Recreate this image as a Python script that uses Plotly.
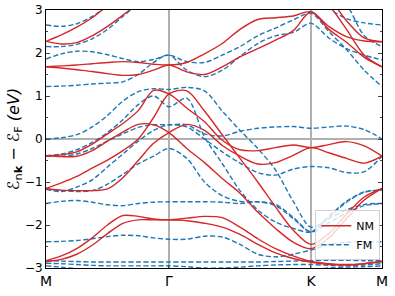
import plotly.graph_objects as go

# k-path: M -> Gamma -> K -> M (hexagonal), segment lengths
SEG_LEN = [0.866, 1.0, 0.5]
SEG_STEPS = [8, 8, 4]
TICK_LABELS = ["M", "Γ", "K", "M"]

# energies (eV) of NM bands at the 21 k-grid points
NM_1 = [2.27, 2.42, 2.6, 2.82, 3.1, 3.4, 3.6, 3.7, 3.75, 3.8, 3.8, 3.8, 3.7, 3.6, 3.5, 3.4, 3.3, 3.25, 2.75, 2.35, 2.26]
NM_2 = [2.27, 2.21, 2.24, 2.4, 2.62, 2.88, 3.15, 3.4, 3.5, 3.6, 3.7, 3.7, 3.6, 3.5, 3.45, 3.4, 3.35, 3.1, 2.55, 1.95, 1.68]
NM_3 = [1.68, 1.7, 1.72, 1.75, 1.78, 1.8, 1.78, 1.74, 1.72, 1.78, 1.98, 2.22, 2.55, 2.78, 2.82, 2.86, 2.96, 2.62, 2.38, 2.28, 2.26]
NM_4 = [1.68, 1.65, 1.61, 1.57, 1.52, 1.48, 1.5, 1.6, 1.72, 1.56, 1.5, 1.68, 1.91, 2.1, 2.3, 2.52, 2.96, 2.55, 2.25, 1.9, 1.68]
NM_5 = [-0.39, -0.37, -0.3, -0.12, 0.12, 0.36, 0.66, 1.13, 1.05, 0.72, 0.4, -0.03, -0.25, -0.27, -0.2, -0.14, -0.2, -0.13, -0.06, -0.16, -0.4]
NM_6 = [-0.39, -0.41, -0.4, -0.27, -0.05, 0.16, 0.34, 0.33, 0.15, -0.22, -0.55, -0.92, -1.26, -1.7, -2.08, -2.4, -2.55, -2.3, -1.85, -1.42, -1.15]
NM_7 = [-1.15, -1.02, -0.87, -0.68, -0.49, -0.27, 0.0, 0.5, 1.05, 1.12, 0.65, 0.1, -0.45, -1.0, -1.58, -2.12, -2.45, -2.2, -1.75, -1.35, -1.15]
NM_8 = [-1.15, -1.19, -1.2, -1.2, -1.16, -0.9, -0.5, -0.1, 0.15, 0.34, 0.2, -0.15, -0.4, -0.58, -0.55, -0.38, -0.2, -0.32, -0.45, -0.56, -0.4]
NM_9 = [-2.83, -2.72, -2.55, -2.3, -2.0, -1.78, -1.8, -1.86, -1.88, -1.84, -1.8, -1.83, -2.05, -2.32, -2.55, -2.72, -2.85, -2.9, -2.92, -2.9, -2.85]
NM_10 = [-2.85, -2.8, -2.68, -2.47, -2.2, -1.96, -1.88, -1.88, -1.88, -1.9, -1.96, -2.05, -2.22, -2.45, -2.65, -2.78, -2.87, -2.92, -2.93, -2.9, -2.85]

# energies (eV) of FM bands
FM_1 = [2.65, 2.62, 2.68, 2.85, 3.1, 3.4, 3.6, 3.8, 3.9, 3.9, 3.6, 3.2, 3.02, 3.2, 3.4, 3.5, 3.5, 3.05, 2.8, 2.7, 2.65]
FM_2 = [2.15, 2.15, 2.2, 2.33, 2.55, 2.85, 3.15, 3.4, 3.6, 3.7, 3.8, 3.8, 3.8, 3.75, 3.7, 3.6, 3.5, 3.3, 3.1, 2.4, 2.15]
FM_3 = [1.86, 1.98, 2.04, 2.03, 1.96, 1.87, 1.8, 1.85, 1.95, 1.8, 1.78, 1.95, 2.15, 2.4, 2.58, 2.77, 2.92, 2.5, 2.08, 1.6, 1.22]
FM_4 = [1.22, 1.23, 1.25, 1.28, 1.3, 1.33, 1.5, 1.78, 1.95, 1.6, 1.45, 1.6, 1.92, 2.22, 2.4, 2.48, 2.69, 2.35, 2.1, 1.95, 1.84]
FM_5 = [0.0, 0.03, 0.1, 0.28, 0.55, 0.88, 1.1, 1.17, 1.15, 1.2, 1.12, 0.65, 0.2, -0.22, -0.72, -1.45, -2.05, -1.85, -1.65, -1.52, -1.5]
FM_6 = [-0.39, -0.35, -0.25, -0.08, 0.15, 0.45, 0.8, 1.0, 0.75, 0.95, 0.05, -0.57, -1.2, -1.65, -1.93, -2.08, -2.16, -1.8, -1.45, -1.23, -1.19]
FM_7 = [-0.39, -0.4, -0.35, -0.22, -0.05, 0.12, 0.27, 0.33, 0.33, 0.33, 0.12, 0.07, 0.18, 0.25, 0.28, 0.29, 0.25, 0.28, 0.3, 0.22, 0.0]
FM_8 = [-1.17, -1.22, -1.12, -0.95, -0.65, -0.35, -0.05, 0.2, 0.33, 0.28, 0.0, -0.3, -0.56, -0.78, -0.84, -0.7, -0.64, -0.67, -0.78, -0.76, -0.4]
FM_9 = [-1.17, -1.2, -1.22, -1.2, -1.05, -0.82, -0.58, -0.4, -0.22, -0.45, -1.0, -1.32, -1.45, -1.46, -1.52, -1.82, -2.16, -1.82, -1.47, -1.24, -1.19]
FM_10 = [-1.5, -1.45, -1.43, -1.47, -1.53, -1.55, -1.5, -1.47, -1.46, -1.46, -1.46, -1.47, -1.5, -1.46, -1.55, -1.85, -2.16, -1.95, -1.72, -1.55, -1.5]
FM_11 = [-2.39, -2.38, -2.36, -2.32, -2.27, -2.24, -2.25, -2.3, -2.33, -2.33, -2.26, -2.28, -2.45, -2.68, -2.74, -2.68, -2.58, -2.45, -2.4, -2.39, -2.39]
FM_12 = [-2.83, -2.84, -2.85, -2.86, -2.86, -2.86, -2.86, -2.86, -2.86, -2.86, -2.86, -2.86, -2.86, -2.86, -2.85, -2.84, -2.83, -2.82, -2.82, -2.83, -2.83]
FM_13 = [-2.89, -2.9, -2.92, -2.94, -2.95, -2.95, -2.95, -2.95, -2.95, -2.97, -3.0, -3.0, -2.98, -2.95, -2.93, -2.92, -2.92, -2.94, -2.95, -2.93, -2.9]
FM_14 = [-2.95, -2.98, -3.02, -3.05, -3.05, -3.05, -3.05, -3.05, -3.05, -3.05, -3.05, -3.05, -3.05, -3.05, -3.05, -3.05, -3.05, -3.0, -2.98, -2.97, -2.95]

NM_BANDS = [NM_1, NM_2, NM_3, NM_4, NM_5, NM_6, NM_7, NM_8, NM_9, NM_10]
FM_BANDS = [FM_1, FM_2, FM_3, FM_4, FM_5, FM_6, FM_7, FM_8, FM_9, FM_10, FM_11, FM_12, FM_13, FM_14]

# build k-grid from path segments
KGRID = [0.0]
TICKS = [0.0]
for L, n in zip(SEG_LEN, SEG_STEPS):
    start = TICKS[-1]
    for i in range(1, n + 1):
        KGRID.append(start + L * i / n)
    TICKS.append(start + L)

RED = "#d62728"
BLUE = "#1f77b4"

fig = go.Figure()


def add_bands(bands, name, color, dash):
    xs, ys = [], []
    for b in bands:
        xs += KGRID + [None]
        ys += b + [None]
    fig.add_trace(go.Scatter(
        x=xs, y=ys, mode="lines", name=name,
        line=dict(color=color, width=1.4, dash=dash, shape="spline", smoothing=0.9),
        connectgaps=False, hoverinfo="skip",
    ))


add_bands(FM_BANDS, "FM", BLUE, "5px,2.5px")
add_bands(NM_BANDS, "NM", RED, "solid")

fig.update_layout(
    width=395, height=296,
    margin=dict(l=46, r=13, t=10, b=28, autoexpand=False),
    paper_bgcolor="white", plot_bgcolor="white",
    font=dict(family="DejaVu Sans", color="black", size=12),
    showlegend=True,
    legend=dict(
        x=0.995, y=0.03, xanchor="right", yanchor="bottom",
        bgcolor="rgba(255,255,255,0.8)", bordercolor="#d0d0d0", borderwidth=1,
        font=dict(size=11), traceorder="reversed",
        tracegroupgap=0, itemwidth=30,
    ),
)
fig.update_xaxes(
    range=[TICKS[0], TICKS[-1]], automargin=False,
    tickvals=TICKS, ticktext=TICK_LABELS,
    tickfont=dict(size=14),
    showgrid=True, gridcolor="#b0b0b0", gridwidth=1.2,
    zeroline=False,
    showline=True, linecolor="black", linewidth=1, mirror=True,
    ticks="inside", ticklen=3,
)
fig.update_yaxes(
    range=[-3, 3], dtick=1, automargin=False,
    tickfont=dict(size=12),
    showgrid=False,
    zeroline=True, zerolinecolor="#b0b0b0", zerolinewidth=1.2,
    showline=True, linecolor="black", linewidth=1, mirror="allticks",
    ticks="inside", ticklen=4,
    minor=dict(ticks="inside", ticklen=2, dtick=0.5, showgrid=False),
    title=dict(text="ℰ<sub>n<b>k</b></sub> − ℰ<sub>F</sub> <i>(eV)</i>", standoff=1, font=dict(size=16)),
)

fig.write_html(
    "out.html",
    config={"displayModeBar": False, "staticPlot": True},
    post_script="document.body.style.margin='0';document.body.style.overflow='hidden';",
)
